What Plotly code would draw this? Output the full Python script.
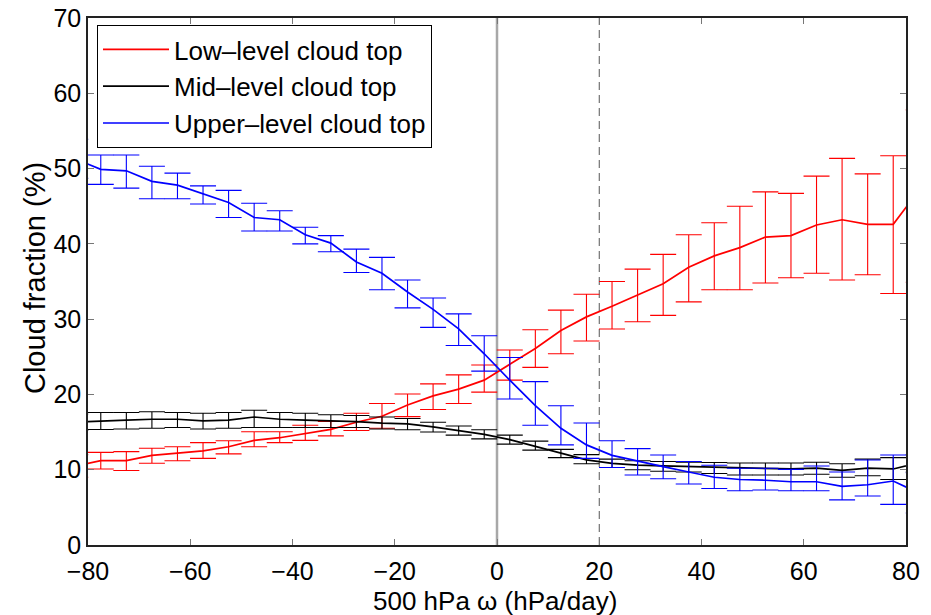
import numpy as np
import plotly.graph_objects as go

# bin centres (hPa/day); outer bins lie just outside the axis range and are clipped
omega = [-82.5, -77.5, -72.5, -67.5, -62.5, -57.5, -52.5, -47.5, -42.5, -37.5,
         -32.5, -27.5, -22.5, -17.5, -12.5, -7.5, -2.5, 2.5, 7.5, 12.5,
         17.5, 22.5, 27.5, 32.5, 37.5, 42.5, 47.5, 52.5, 57.5, 62.5,
         67.5, 72.5, 77.5, 82.5]

low_mean = [10.5, 11.2, 11.2, 11.9, 12.2, 12.5, 13.05, 13.9, 14.25, 14.8,
            15.35, 16.3, 17.1, 18.6, 19.8, 20.7, 21.9, 24.0, 26.1, 28.5,
            30.3, 31.7, 33.2, 34.7, 36.9, 38.4, 39.5, 40.9, 41.1, 42.5,
            43.2, 42.6, 42.6, 47.1]
low_hi = [12.0, 12.3, 12.4, 12.85, 13.05, 13.6, 13.85, 15.05, 15.05, 15.9,
          16.4, 17.5, 18.8, 20.05, 21.4, 22.6, 23.9, 25.9, 28.6, 31.2,
          33.3, 35.0, 36.65, 38.6, 41.2, 42.8, 45.0, 46.9, 46.7, 49.0,
          51.35, 49.3, 51.7, 57.8]
low_lo = [9.0, 10.1, 9.9, 10.85, 11.2, 11.5, 12.1, 13.05, 13.6, 13.9,
          14.5, 15.2, 15.5, 17.05, 18.0, 18.8, 20.3, 21.9, 23.6, 25.4,
          27.1, 28.7, 29.65, 30.5, 32.3, 33.9, 33.9, 34.8, 35.5, 36.1,
          35.2, 35.9, 33.4, 34.9]

mid_mean = [16.3, 16.5, 16.6, 16.7, 16.7, 16.5, 16.6, 17.0, 16.7, 16.6,
            16.5, 16.4, 16.2, 16.1, 15.7, 15.2, 14.7, 14.0, 13.1, 12.1,
            11.3, 10.85, 10.6, 10.5, 10.4, 10.3, 10.2, 10.1, 10.1, 10.2,
            9.9, 10.2, 10.1, 10.9]
mid_hi = [17.4, 17.6, 17.6, 17.7, 17.6, 17.5, 17.6, 17.9, 17.6, 17.5,
          17.3, 17.2, 17.0, 16.8, 16.3, 15.8, 15.3, 14.6, 13.8, 12.7,
          12.0, 11.4, 11.2, 11.1, 11.0, 10.95, 10.9, 10.9, 10.9, 11.0,
          10.8, 11.4, 11.6, 12.0]
mid_lo = [15.2, 15.35, 15.4, 15.5, 15.6, 15.4, 15.5, 15.6, 15.6, 15.6,
          15.6, 15.6, 15.4, 15.3, 15.0, 14.6, 14.1, 13.4, 12.6, 11.6,
          10.8, 10.3, 10.0, 9.8, 9.7, 9.5, 9.3, 9.3, 9.3, 9.4,
          9.0, 9.2, 8.7, 9.7]

up_mean = [51.3, 49.9, 49.7, 48.3, 47.8, 46.6, 45.5, 43.5, 43.2, 41.2,
           40.1, 37.6, 36.1, 33.6, 31.3, 28.7, 25.4, 21.9, 18.5, 15.5,
           13.3, 11.9, 11.1, 10.4, 9.7, 9.0, 8.7, 8.6, 8.4, 8.4,
           7.8, 8.0, 8.5, 6.9]
up_hi = [53.9, 51.8, 51.8, 50.3, 49.4, 47.7, 47.1, 45.4, 44.4, 42.2,
         41.1, 39.3, 38.2, 35.2, 32.8, 30.7, 27.8, 24.9, 21.7, 18.5,
         16.2, 13.85, 12.8, 11.95, 11.1, 10.6, 10.2, 10.2, 10.05, 10.5,
         9.7, 11.3, 11.95, 9.6]
up_lo = [48.7, 47.9, 47.4, 46.0, 46.0, 45.3, 43.5, 41.7, 41.7, 40.0,
         38.95, 36.2, 33.9, 31.5, 28.9, 26.5, 23.1, 19.4, 15.9, 13.3,
         11.5, 10.3, 9.3, 8.8, 8.1, 7.5, 7.2, 7.3, 7.2, 7.2,
         6.0, 6.5, 5.4, 4.25]

series = [
    ("Low\u2013level cloud top", low_mean, low_hi, low_lo, "#ff0000"),
    ("Mid\u2013level cloud top", mid_mean, mid_hi, mid_lo, "#000000"),
    ("Upper\u2013level cloud top", up_mean, up_hi, up_lo, "#0000ff"),
]

x_ticks = [-80, -60, -40, -20, 0, 20, 40, 60, 80]
y_ticks = [0, 10, 20, 30, 40, 50, 60, 70]

FONT = "Liberation Sans, Arial, Helvetica, sans-serif"
TICK_FONT = dict(family=FONT, size=25, color="#000")

fig = go.Figure()
for name, m, hi, lo, col in series:
    m = np.array(m)
    fig.add_trace(go.Scatter(
        x=omega, y=m, mode="lines", name=name,
        line=dict(color=col, width=1.7),
        error_y=dict(type="data", symmetric=False,
                     array=np.array(hi) - m, arrayminus=m - np.array(lo),
                     color=col, thickness=1.1, width=13),
    ))

fig.add_shape(type="line", xref="x", yref="paper", x0=0, x1=0, y0=0, y1=1,
              line=dict(color="#a8a8a8", width=2.5), layer="below")
fig.add_shape(type="line", xref="x", yref="paper", x0=20, x1=20, y0=0, y1=1,
              line=dict(color="#555555", width=1, dash="8px,5px"), layer="below")

axis_common = dict(showgrid=False, zeroline=False, ticks="inside", ticklen=6,
                   tickcolor="#777", tickwidth=1, showline=True, linecolor="#222",
                   linewidth=1.5, mirror="ticks", tickfont=TICK_FONT, automargin=False)

fig.update_layout(
    width=931, height=615,
    margin=dict(l=88, r=25, t=18, b=70),
    paper_bgcolor="white", plot_bgcolor="white",
    xaxis=dict(range=[-80, 80], tickvals=x_ticks, ticklabelstandoff=3, **axis_common),
    yaxis=dict(range=[0, 70], tickvals=y_ticks, **axis_common),
    legend=dict(x=0.011, y=0.9867, xanchor="left", yanchor="top",
                bgcolor="white", bordercolor="#000", borderwidth=1,
                font=dict(family=FONT, size=26, color="#000"),
                itemwidth=66, tracegroupgap=0),
    showlegend=True,
    annotations=[
        dict(text="500 hPa \u03c9 (hPa/day)", xref="paper", yref="paper",
             x=0.4976, y=-0.1063, xanchor="center", yanchor="middle", showarrow=False,
             font=dict(family=FONT, size=26, color="#000")),
        dict(text="Cloud fraction (%)", xref="paper", yref="paper",
             x=-0.0648, y=0.5066, xanchor="center", yanchor="middle", showarrow=False,
             textangle=-90, font=dict(family=FONT, size=29, color="#000")),
    ],
)

# remove the default page margin so the figure sits at the window's top-left corner
fig.write_html("out.html", config={"displayModeBar": False},
               post_script="document.body.style.margin='0';")
